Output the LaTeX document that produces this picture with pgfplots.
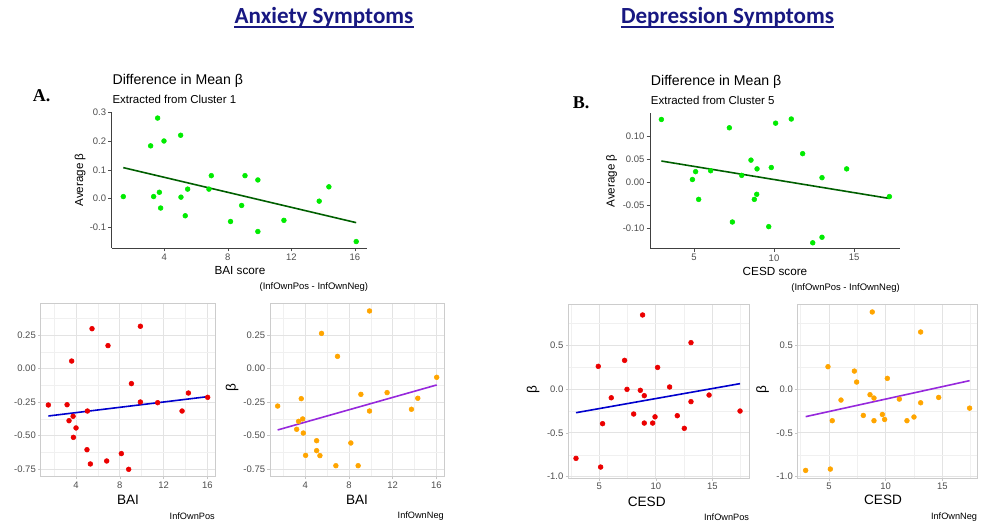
\documentclass[border=0pt]{standalone}
\usepackage{fontspec}
\setmainfont{Liberation Sans}
\newfontfamily\hdrfont{Carlito}
\newfontfamily\serffont{Liberation Serif}
\usepackage{pgfplots}
\pgfplotsset{compat=1.18}
\definecolor{hdrblue}{RGB}{24,24,130}
\definecolor{gthirty}{RGB}{77,77,77}
\definecolor{ggreen}{RGB}{0,235,0}
\definecolor{dgreen}{RGB}{0,95,0}
\definecolor{pred}{RGB}{235,0,0}
\definecolor{pblue}{RGB}{0,0,205}
\definecolor{porange}{RGB}{255,165,0}
\definecolor{ppurple}{RGB}{150,40,220}
\pgfplotsset{
  /pgf/number format/assume math mode=true,
  topax/.style={scale only axis, axis x line*=bottom, axis y line*=left,
    axis line style={-, black!75, line width=0.6pt},
    tick style={black!70, line width=0.5pt}, major tick length=2.5pt, tick align=outside,
    ticklabel style={font=\fontsize{7.1}{8}\selectfont, text=gthirty},
    xticklabel style={inner sep=1.5pt}, yticklabel style={inner sep=1.5pt}},
  botax/.style={scale only axis, axis line style={gray!40, line width=0.5pt},
    grid=both, major grid style={gray!22, line width=0.5pt}, minor grid style={gray!12, line width=0.3pt},
    tick style={gray!45, line width=0.4pt}, major tick length=2pt, minor tick length=0pt, tick align=outside,
    xtick pos=left, ytick pos=left,
    ticklabel style={font=\fontsize{7.1}{8}\selectfont, text=gthirty},
    xticklabel style={inner sep=1.5pt}, yticklabel style={inner sep=1.5pt}},
  baiax/.style={botax, xmin=0.77, xmax=16.7, ymin=-0.805, ymax=0.486,
    xtick={4,8,12,16}, xticklabels={4,8,12,16}, minor xtick={2,6,10,14},
    ytick={-0.75,-0.5,-0.25,0,0.25}, yticklabels={-0.75,-0.50,-0.25,0.00,0.25},
    minor ytick={-0.625,-0.375,-0.125,0.125,0.375}},
  cesdax/.style={botax, ymin=-1.018, ymax=0.967,
    xtick={5,10,15}, xticklabels={5,10,15}, minor xtick={2.5,7.5,12.5,17.5},
    ytick={-1,-0.5,0,0.5}, yticklabels={-1.0,-0.5,0.0,0.5},
    minor ytick={-0.75,-0.25,0.25,0.75}},
  dot/.style={only marks, mark=*, mark size=1.8pt, color=#1},
  fit/.style={#1, line width=1.2pt, no marks},
}
\begin{document}
\begin{tikzpicture}[x=0.75pt, y=0.75pt]
\path[use as bounding box] (0,0) rectangle (987,-523);

% headers
\node[inner sep=0, anchor=base, text=hdrblue, font=\hdrfont\bfseries\fontsize{17.3}{20}\selectfont] (h1) at (324,-24) {Anxiety Symptoms};
\draw[hdrblue, line width=1.1pt] ([yshift=-2.3pt]h1.base west) -- ([yshift=-2.3pt]h1.base east);
\node[inner sep=0, anchor=base, text=hdrblue, font=\hdrfont\bfseries\fontsize{17.3}{20}\selectfont] (h2) at (727.5,-24) {Depression Symptoms};
\draw[hdrblue, line width=1.1pt] ([yshift=-2.3pt]h2.base west) -- ([yshift=-2.3pt]h2.base east);

\node[inner sep=0, anchor=base west, font=\serffont\bfseries\fontsize{13.5}{15}\selectfont] at (32.7,-101.7) {A.};
\node[inner sep=0, anchor=base west, font=\serffont\bfseries\fontsize{13.5}{15}\selectfont] at (572.7,-108.3) {B.};

% ---------- top left ----------
\node[inner sep=0, anchor=base west, font=\fontsize{10.6}{12}\selectfont] at (112.3,-84.3) {Difference in Mean β};
\node[inner sep=0, anchor=base west, font=\fontsize{8.6}{10}\selectfont] at (112.3,-104) {Extracted from Cluster 1};
\begin{axis}[topax, at={(83.775pt,-186pt)}, anchor=south west, width=191.48pt, height=101.85pt,
  xmin=0.69, xmax=16.76, ymin=-0.1725, ymax=0.3015,
  xtick={4,8,12,16}, xticklabels={4,8,12,16},
  ytick={-0.1,0,0.1,0.2,0.3}, yticklabels={-0.1,0.0,0.1,0.2,0.3}]
\addplot[dot=ggreen] table {
1.42 0.007
3.14 0.184
3.33 0.007
3.58 0.281
3.69 0.022
3.77 -0.033
3.98 0.201
5.03 0.221
5.05 0.005
5.32 -0.060
5.47 0.033
6.81 0.033
6.96 0.080
8.17 -0.080
8.87 -0.024
9.08 0.080
9.89 0.065
9.89 -0.115
11.53 -0.076
13.75 -0.009
14.36 0.041
16.08 -0.150
};
\addplot[fit=dgreen] coordinates {(1.42,0.108) (16.08,-0.084)};
\end{axis}
\node[rotate=90, font=\fontsize{8.7}{10}\selectfont] at (80,-180) {Average β};
\node[font=\fontsize{8.8}{10}\selectfont] at (240,-270.7) {BAI score};
\node[inner sep=0, anchor=east, font=\fontsize{7.1}{8}\selectfont] at (368.3,-286.7) {(InfOwnPos - InfOwnNeg)};

% ---------- top right ----------
\node[inner sep=0, anchor=base west, font=\fontsize{10.6}{12}\selectfont] at (650.7,-85.5) {Difference in Mean β};
\node[inner sep=0, anchor=base west, font=\fontsize{8.6}{10}\selectfont] at (650.7,-105) {Extracted from Cluster 5};
\begin{axis}[topax, at={(487.5pt,-186.6pt)}, anchor=south west, width=187.5pt, height=101.85pt,
  xmin=2.25, xmax=17.875, ymin=-0.144, ymax=0.150,
  xtick={5,10,15}, xticklabels={5,10,15},
  ytick={-0.1,-0.05,0,0.05,0.1}, yticklabels={-0.10,-0.05,0.00,0.05,0.10}]
\addplot[dot=ggreen] table {
2.96 0.136
4.90 0.006
5.10 0.023
5.29 -0.037
6.04 0.025
7.21 0.118
7.40 -0.086
7.98 0.015
8.56 0.048
8.77 -0.037
8.92 -0.026
8.94 0.029
9.67 -0.096
9.83 0.032
10.10 0.128
11.08 0.137
11.79 0.062
12.42 -0.131
13.00 0.010
13.00 -0.119
14.54 0.029
17.21 -0.031
};
\addplot[fit=dgreen] coordinates {(2.96,0.046) (17.21,-0.035)};
\end{axis}
\node[rotate=90, font=\fontsize{8.7}{10}\selectfont] at (611.7,-181) {Average β};
\node[font=\fontsize{8.8}{10}\selectfont] at (775,-271) {CESD score};
\node[inner sep=0, anchor=east, font=\fontsize{7.1}{8}\selectfont] at (900,-288) {(InfOwnPos - InfOwnNeg)};

% ---------- bottom: BAI InfOwnPos ----------
\begin{axis}[baiax, at={(30.525pt,-357.525pt)}, anchor=south west, width=130.73pt, height=130.05pt]
\addplot[dot=pred] table {
1.47 -0.271
3.18 -0.269
3.36 -0.388
3.60 0.056
3.73 -0.355
3.76 -0.512
4.00 -0.442
5.00 -0.604
5.04 -0.316
5.31 -0.710
5.46 0.297
6.80 -0.688
6.92 0.171
8.14 -0.633
8.81 -0.750
9.06 -0.112
9.88 0.315
9.88 -0.249
11.46 -0.254
13.69 -0.316
14.27 -0.182
16.03 -0.214
};
\addplot[fit=pblue] coordinates {(1.47,-0.353) (16.03,-0.209)};
\end{axis}
\node[font=\fontsize{10.2}{12}\selectfont] at (128,-500) {BAI};
\node[inner sep=0, anchor=east, font=\fontsize{6.9}{8}\selectfont] at (215,-516) {InfOwnPos};

% ---------- bottom: BAI InfOwnNeg ----------
\begin{axis}[baiax, at={(202.5pt,-357.525pt)}, anchor=south west, width=130.5pt, height=130.05pt]
\addplot[dot=porange] table {
1.47 -0.279
3.21 -0.452
3.39 -0.393
3.63 -0.224
3.76 -0.375
3.82 -0.480
4.03 -0.646
5.04 -0.537
5.04 -0.611
5.34 -0.648
5.49 0.262
6.80 -0.723
6.95 0.091
8.17 -0.554
8.84 -0.723
9.09 -0.192
9.88 0.429
9.88 -0.316
11.49 -0.179
13.72 -0.303
14.30 -0.221
16.03 -0.065
};
\addplot[fit=ppurple] coordinates {(1.47,-0.457) (16.03,-0.122)};
\end{axis}
\node[rotate=90, font=\fontsize{10.2}{12}\selectfont] at (232,-388) {β};
\node[font=\fontsize{10.2}{12}\selectfont] at (357,-500) {BAI};
\node[inner sep=0, anchor=east, font=\fontsize{6.9}{8}\selectfont] at (444,-516) {InfOwnNeg};

% ---------- bottom: CESD InfOwnPos ----------
\begin{axis}[cesdax, at={(426.225pt,-358.725pt)}, anchor=south west, width=135.75pt, height=130.73pt,
  xmin=2.26, xmax=18.27]
\addplot[dot=pred] table {
2.94 -0.791
4.91 0.257
5.12 -0.890
5.29 -0.396
6.06 -0.101
7.24 0.325
7.45 -0.005
8.04 -0.286
8.63 -0.016
8.83 0.842
8.98 -0.077
8.98 -0.389
9.72 -0.389
9.93 -0.318
10.16 0.245
11.22 0.022
11.90 -0.305
12.52 -0.449
13.11 0.527
13.11 -0.145
14.71 -0.070
17.45 -0.252
};
\addplot[fit=pblue] coordinates {(2.94,-0.271) (17.45,0.060)};
\end{axis}
\node[rotate=90, font=\fontsize{10.2}{12}\selectfont] at (533,-390) {β};
\node[font=\fontsize{10.2}{12}\selectfont] at (646.7,-501.7) {CESD};
\node[inner sep=0, anchor=east, font=\fontsize{6.9}{8}\selectfont] at (749.3,-517) {InfOwnPos};

% ---------- bottom: CESD InfOwnNeg ----------
\begin{axis}[cesdax, at={(598.275pt,-358.725pt)}, anchor=south west, width=134.7pt, height=130.73pt,
  xmin=2.24, xmax=18.09]
\addplot[dot=porange] table {
2.94 -0.928
4.91 0.253
5.12 -0.913
5.29 -0.362
6.06 -0.127
7.24 0.203
7.44 0.078
8.03 -0.302
8.62 -0.066
8.82 0.876
8.97 -0.104
8.97 -0.362
9.71 -0.291
9.91 -0.348
10.15 0.120
11.21 -0.116
11.88 -0.362
12.50 -0.320
13.09 0.648
13.09 -0.158
14.68 -0.097
17.41 -0.219
};
\addplot[fit=ppurple] coordinates {(2.94,-0.316) (17.41,0.094)};
\end{axis}
\node[rotate=90, font=\fontsize{10.2}{12}\selectfont] at (762.7,-390) {β};
\node[font=\fontsize{10.2}{12}\selectfont] at (883,-500) {CESD};
\node[inner sep=0, anchor=east, font=\fontsize{6.9}{8}\selectfont] at (977.3,-517) {InfOwnNeg};
\end{tikzpicture}
\end{document}
